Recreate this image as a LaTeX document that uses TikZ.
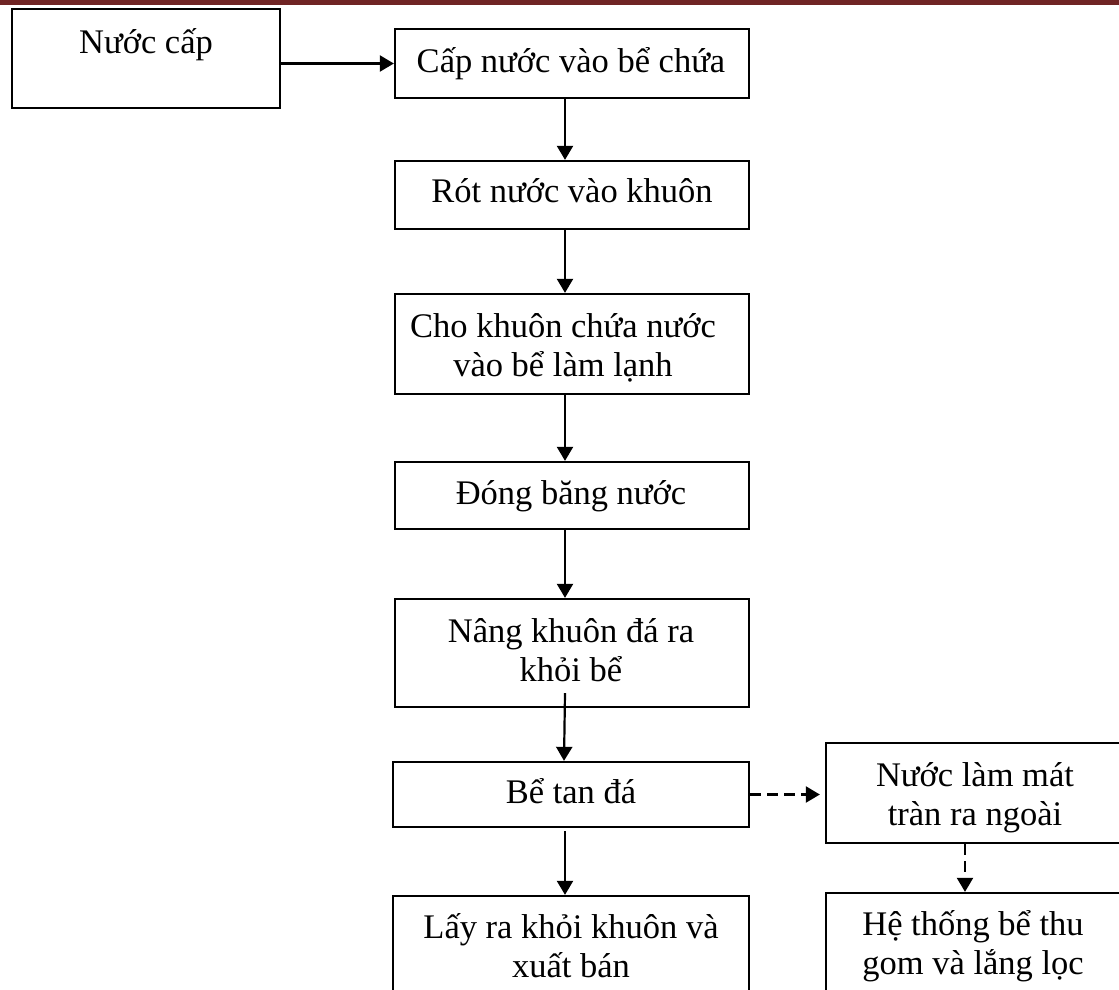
\documentclass[tikz,border=0pt]{standalone}
\usepackage{fontspec}
\setmainfont{Liberation Serif}
\usetikzlibrary{arrows.meta}
\definecolor{hdrred}{RGB}{112,36,36}
\newcommand{\twolines}[1]{\begin{tabular}[t]{@{}c@{}}#1\end{tabular}}
\begin{document}
\begin{tikzpicture}[x=1pt,y=-1pt,
  box/.style={draw=black,line width=2.3pt,rectangle,inner sep=0pt},
  lbl/.style={anchor=base,inner sep=0pt,font=\fontsize{34.5}{39}\selectfont},
  flow/.style={line width=2.2pt,-{Triangle[length=14pt,width=16pt]}},
  dflow/.style={flow,dash pattern=on 11pt off 6pt}]
\useasboundingbox (0,0) rectangle (1119,989);
\clip (0,0) rectangle (1119,989);
\fill[hdrred] (0,0) rectangle (1119,4.5);
% boxes
\node[box,minimum width=268pt,minimum height=99pt] (src) at (146,58.5) {};
\node[box,minimum width=354pt,minimum height=69pt] (b1) at (572,63.5) {};
\node[box,minimum width=354pt,minimum height=68pt] (b2) at (572,195) {};
\node[box,minimum width=354pt,minimum height=100pt] (b3) at (572,344) {};
\node[box,minimum width=354pt,minimum height=67pt] (b4) at (572,495.5) {};
\node[box,minimum width=354pt,minimum height=108pt] (b5) at (572,653) {};
\node[box,minimum width=356pt,minimum height=65pt] (b6) at (571,794.5) {};
\node[box,minimum width=356pt,minimum height=110pt] (b7) at (571,951) {};
\node[box,minimum width=298pt,minimum height=100pt] (r1) at (975,793) {};
\node[box,minimum width=298pt,minimum height=110pt] (r2) at (975,948) {};
% texts
\node[lbl] (tsrc) at (146,53) {Nước cấp};
\node[lbl] (t1) at (571,72) {Cấp nước vào bể chứa};
\node[lbl] (t2) at (572,202) {Rót nước vào khuôn};
\node[lbl] (t3) at (563,337) {\twolines{Cho khuôn chứa nước\\vào bể làm lạnh}};
\node[lbl] (t4) at (571,504) {Đóng băng nước};
\node[lbl] (t5) at (571,642) {\twolines{Nâng khuôn đá ra\\khỏi bể}};
\node[lbl] (t6) at (571,803) {Bể tan đá};
\node[lbl] (t7) at (571,938) {\twolines{Lấy ra khỏi khuôn và\\xuất bán}};
\node[lbl] (tr1) at (975,786) {\twolines{Nước làm mát\\tràn ra ngoài}};
\node[lbl] (tr2) at (973,935) {\twolines{Hệ thống bể thu\\gom và lắng lọc}};
% connectors
\draw[flow] (src.east |- b1.west) -- (b1.west);
\draw[flow] ([xshift=-7pt]b1.south) -- ([xshift=-7pt]b2.north);
\draw[flow] ([xshift=-7pt]b2.south) -- ([xshift=-7pt]b3.north);
\draw[flow] ([xshift=-7pt]b3.south) -- ([xshift=-7pt]b4.north);
\draw[flow] ([xshift=-7pt]b4.south) -- ([xshift=-7pt]b5.north);
\draw[flow] ([xshift=-7pt,yshift=15pt]b5.south) -- ([xshift=-7pt]b6.north);
\draw[flow] ([xshift=-6pt,yshift=-3pt]b6.south) -- ([xshift=-6pt]b7.north);
\draw[dflow] (b6.east) -- ([xshift=-5pt]r1.west |- b6.east);
\draw[dflow] ([xshift=-10pt]r1.south) -- ([xshift=-10pt]r2.north);
\end{tikzpicture}
\end{document}
